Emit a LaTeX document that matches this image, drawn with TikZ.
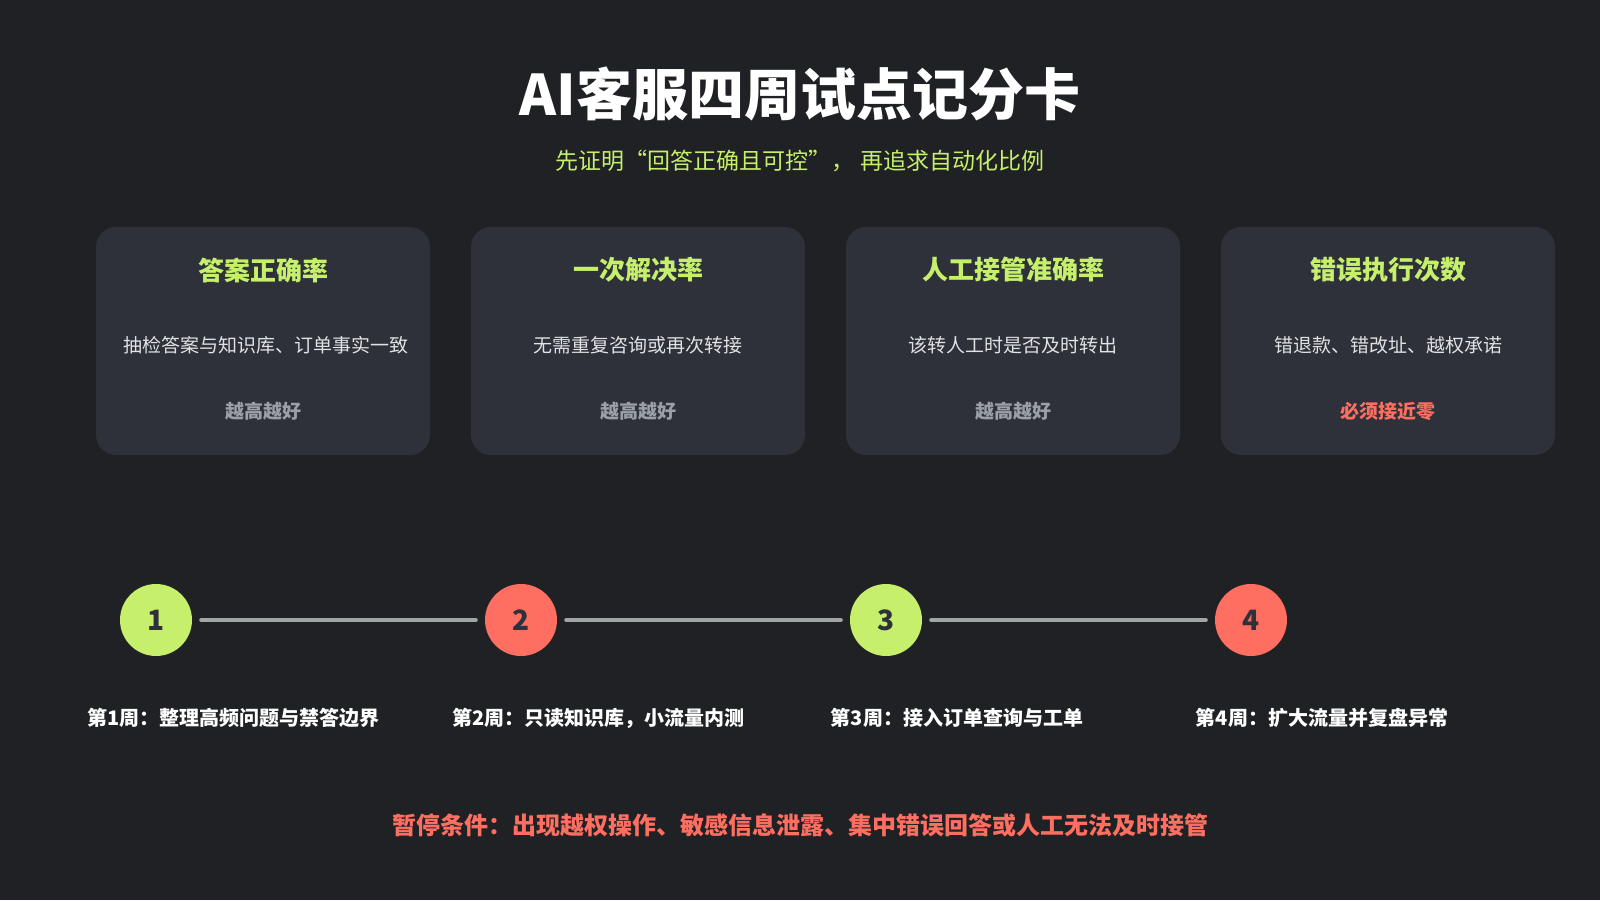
\documentclass[tikz,border=0pt]{standalone}
\usepackage{fontspec}
\setmainfont{Noto Sans CJK SC}
\definecolor{bg}{HTML}{202124}
\definecolor{card}{HTML}{2E3139}
\definecolor{grn}{HTML}{C6F06B}
\definecolor{red}{HTML}{FF6F61}
\definecolor{gry}{HTML}{9AA0A6}
\definecolor{txt}{HTML}{E0E2E4}
\definecolor{ln}{HTML}{A0A6A4}
\begin{document}
\begin{tikzpicture}[x=1pt,y=-1pt,
 cardbox/.style={fill=card,rounded corners=20pt,minimum width=334pt,minimum height=228pt,inner sep=0pt},
 ctitle/.style={font=\fontsize{26}{30}\selectfont\bfseries,text=grn},
 cdesc/.style={font=\fontsize{19}{26}\selectfont,text=txt,align=center,text width=280pt},
 cnote/.style={font=\fontsize{19}{24}\selectfont\bfseries,text=gry},
 stepc/.style={circle,minimum size=72pt,inner sep=0pt,font=\fontsize{28}{30}\selectfont\bfseries,text=card},
 conn/.style={draw=ln,line width=4pt,line cap=round},
 lbl/.style={font=\fontsize{20}{27}\selectfont\bfseries,text=white,align=center,text width=280pt}]
\fill[bg] (0,0) rectangle (1600,900);
\useasboundingbox (0,0) rectangle (1600,900);
\node[font=\fontsize{56}{60}\selectfont\bfseries,text=white] (title) at (800,94) {AI客服四周试点记分卡};
\node[font=\fontsize{23}{28}\selectfont,text=grn] (sub) at (800,161) {先证明“回答正确且可控”， 再追求自动化比例};
\foreach \i/\x/\t/\d/\n/\c in {1/263/答案正确率/{抽检答案与知识库、订单事实一致}/越高越好/gry,
 2/638/一次解决率/{无需重复咨询或再次转接}/越高越好/gry,
 3/1013/人工接管准确率/{该转人工时是否及时转出}/越高越好/gry,
 4/1388/错误执行次数/{错退款、错改址、越权承诺}/必须接近零/red}{
 \node[cardbox] (card\i) at (\x,341) {};
 \node[ctitle] (ct\i) at (\x,270) {\t};
 \node[cdesc] (cd\i) at (\x,345) {\d};
 \node[cnote,text=\c] (cn\i) at (\x,411) {\n};
}
\node[stepc,fill=grn] (s1) at (156,620) {1};
\node[stepc,fill=red] (s2) at (521,620) {2};
\node[stepc,fill=grn] (s3) at (886,620) {3};
\node[stepc,fill=red] (s4) at (1251,620) {4};
\draw[conn] ([xshift=9pt]s1.east) -- ([xshift=-9pt]s2.west);
\draw[conn] ([xshift=9pt]s2.east) -- ([xshift=-9pt]s3.west);
\draw[conn] ([xshift=9pt]s3.east) -- ([xshift=-9pt]s4.west);
\node[lbl] (l1) at (227,718) {第1周：整理高频问题与禁答边界};
\node[lbl] (l2) at (592,718) {第2周：只读知识库，小流量内测};
\node[lbl] (l3) at (957,718) {第3周：接入订单查询与工单};
\node[lbl] (l4) at (1322,718) {第4周：扩大流量并复盘异常};
\node[font=\fontsize{24}{28}\selectfont\bfseries,text=red] (stop) at (800,825) {暂停条件：出现越权操作、敏感信息泄露、集中错误回答或人工无法及时接管};
\end{tikzpicture}
\end{document}
